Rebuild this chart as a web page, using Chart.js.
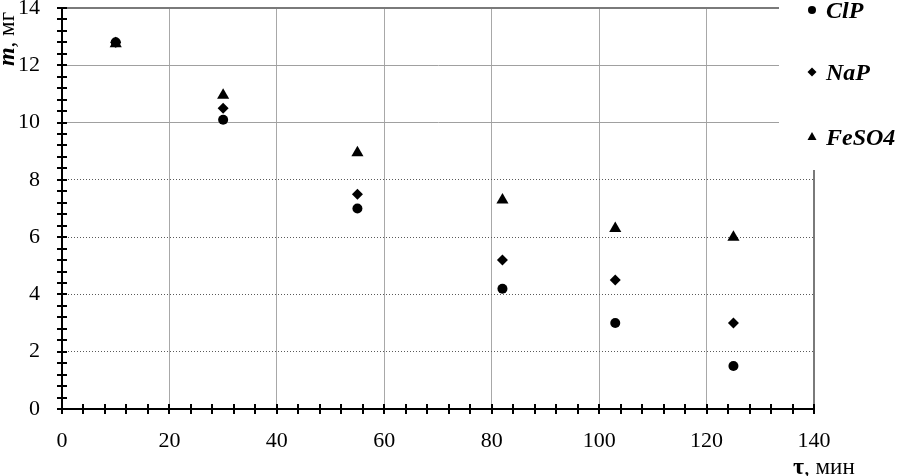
<!DOCTYPE html>
<html>
<head>
<meta charset="utf-8">
<script src="https://cdn.jsdelivr.net/npm/chart.js@4.4.1/dist/chart.umd.min.js"></script>
<style>
  html, body { margin: 0; padding: 0; background: #fff; }
  canvas { display: block; }
</style>
</head>
<body>
<canvas id="c" width="897" height="476"></canvas>
<script>
// ---- data ----
const times = [10, 30, 55, 82, 103, 125];
const clP   = [12.8, 10.1, 7.0, 4.2, 3.0, 1.5];
const naP   = [12.8, 10.5, 7.5, 5.2, 4.5, 3.0];
const feSO4 = [12.75, 10.95, 8.95, 7.3, 6.3, 6.0];
const seriesLabels = ['ClP', 'NaP', 'FeSO4'];
const xTickValues = [0, 20, 40, 60, 80, 100, 120, 140];
const yTickValues = [0, 2, 4, 6, 8, 10, 12, 14];

const FONT = '"Liberation Serif", "Times New Roman", serif';

function pts(vals) { return times.map((t, i) => ({ x: t, y: vals[i] })); }

const extras = {
  id: 'extras',
  afterDraw(chart) {
    const ctx = chart.ctx;
    const xs = chart.scales.x, ys = chart.scales.y;
    const x0 = xs.getPixelForValue(0), y0 = ys.getPixelForValue(0);
    ctx.save();
    // minor cross ticks
    ctx.strokeStyle = '#000';
    ctx.lineWidth = 2;
    ctx.beginPath();
    for (let i = 0; i <= 35; i++) {
      const px = Math.round(xs.getPixelForValue(i * 4));
      ctx.moveTo(px, y0 - 5); ctx.lineTo(px, y0 + 5);
    }
    for (let i = 0; i <= 35; i++) {
      const py = Math.round(ys.getPixelForValue(i * 0.4));
      ctx.moveTo(x0 - 5, py); ctx.lineTo(x0 + 5, py);
    }
    ctx.stroke();

    // legend box (covers plot corner)
    ctx.fillStyle = '#fff';
    ctx.fillRect(779, 0, 897 - 779, 170);

    const legendY = [10, 72, 137];
    const shapes = ['circle', 'diamond', 'triangle'];
    ctx.fillStyle = '#000';
    ctx.font = 'bold italic 24px ' + FONT;
    ctx.textBaseline = 'alphabetic';
    ctx.textAlign = 'left';
    seriesLabels.forEach((lab, i) => {
      const cx = 812, cy = legendY[i];
      ctx.beginPath();
      if (shapes[i] === 'circle') {
        ctx.arc(cx, cy, 4, 0, Math.PI * 2);
      } else if (shapes[i] === 'diamond') {
        ctx.moveTo(cx, cy - 4.5); ctx.lineTo(cx + 4.5, cy); ctx.lineTo(cx, cy + 4.5); ctx.lineTo(cx - 4.5, cy); ctx.closePath();
      } else {
        ctx.moveTo(cx, cy - 5); ctx.lineTo(cx + 4.5, cy + 3); ctx.lineTo(cx - 4.5, cy + 3); ctx.closePath();
      }
      ctx.fill();
      ctx.fillText(lab, 826, cy + 8);
    });

    // y axis title (rotated)
    ctx.save();
    ctx.translate(14, 39);
    ctx.rotate(-Math.PI / 2);
    const f1 = 'bold italic 24px ' + FONT, f2 = '23px ' + FONT;
    ctx.font = f1; const w1 = ctx.measureText('m').width;
    ctx.font = f2; const w2 = ctx.measureText(', мг').width;
    let sx = -(w1 + w2) / 2;
    ctx.font = f1; ctx.fillText('m', sx, 0);
    ctx.font = f2; ctx.fillText(', мг', sx + w1, 0);
    ctx.restore();

    // x axis title
    ctx.font = 'bold 24px ' + FONT;
    const wt = ctx.measureText('τ').width;
    ctx.fillText('τ', 793, 474);
    ctx.font = '23px ' + FONT;
    ctx.fillText(', мин', 793 + wt, 474);
    ctx.restore();
  }
};

new Chart(document.getElementById('c'), {
  type: 'scatter',
  data: {
    datasets: [
      { label: seriesLabels[0], data: pts(clP), pointStyle: 'circle', pointRadius: 5, backgroundColor: '#000', borderWidth: 0 },
      { label: seriesLabels[1], data: pts(naP), pointStyle: 'rectRot', pointRadius: 5.5, backgroundColor: '#000', borderWidth: 0 },
      { label: seriesLabels[2], data: pts(feSO4), pointStyle: 'triangle', pointRadius: 7, backgroundColor: '#000', borderWidth: 0 }
    ]
  },
  options: {
    responsive: false,
    animation: false,
    layout: { padding: { left: 0, right: 83, top: 8, bottom: 0 } },
    plugins: { legend: { display: false }, tooltip: { enabled: false } },
    scales: {
      x: {
        type: 'linear', min: 0, max: 140,
        afterBuildTicks: s => { s.ticks = xTickValues.map(v => ({ value: v })); },
        ticks: { font: { family: FONT, size: 22 }, color: '#000', padding: 19, maxRotation: 0 },
        grid: {
          drawTicks: false,
          color: c => c.tick && c.tick.value === 0 ? 'rgba(0,0,0,0)' : (c.tick && c.tick.value === 140 ? '#7a7a7a' : '#a8a8a8'),
          lineWidth: c => c.tick && c.tick.value === 140 ? 2 : 1
        },
        border: { color: '#000', width: 2 },
        afterFit: s => { s.height = 67; s.paddingLeft = 0; s.paddingRight = 0; s.paddingTop = 0; s.paddingBottom = 0; }
      },
      y: {
        type: 'linear', min: 0, max: 14, position: 'left',
        afterBuildTicks: s => { s.ticks = yTickValues.map(v => ({ value: v })); },
        ticks: { font: { family: FONT, size: 22 }, color: '#000', padding: 22 },
        grid: {
          drawTicks: false,
          color: c => {
            const v = c.tick ? c.tick.value : -1;
            if (v === 14) return '#7a7a7a';
            if (v === 10 || v === 12) return '#a0a0a0';
            return 'rgba(0,0,0,0)';
          },
          lineWidth: c => c.tick && c.tick.value === 14 ? 2 : 1
        },
        border: { color: '#000', width: 2 },
        afterFit: s => { s.width = 62; s.paddingLeft = 0; s.paddingRight = 0; s.paddingTop = 0; s.paddingBottom = 0; }
      },
      y2: {
        type: 'linear', min: 0, max: 14, position: 'left',
        afterBuildTicks: s => { s.ticks = yTickValues.map(v => ({ value: v })); },
        ticks: { display: false },
        grid: {
          drawTicks: false,
          color: c => {
            const v = c.tick ? c.tick.value : -1;
            return (v >= 2 && v <= 8) ? '#5a5a5a' : 'rgba(0,0,0,0)';
          },
          lineWidth: 1
        },
        border: { display: false, dash: [1, 2] },
        afterFit: s => { s.width = 0; s.paddingLeft = 0; s.paddingRight = 0; s.paddingTop = 0; s.paddingBottom = 0; }
      }
    }
  },
  plugins: [extras]
});
</script>
</body>
</html>
